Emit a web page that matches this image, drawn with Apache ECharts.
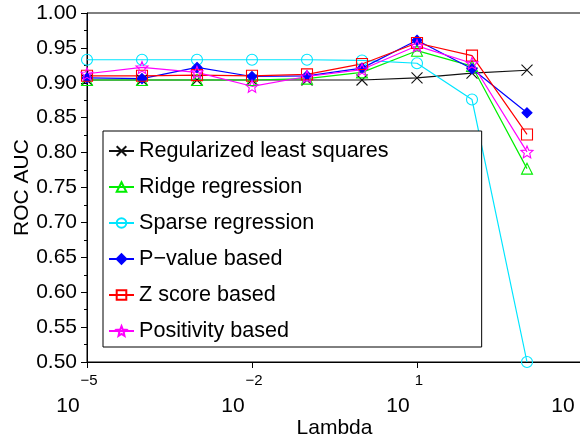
<!DOCTYPE html>
<html>
<head>
<meta charset="utf-8">
<script src="https://cdn.jsdelivr.net/npm/echarts@6/dist/echarts.min.js"></script>
<style>
html, body { margin: 0; padding: 0; background: #fff; }
#container { width: 580px; height: 440px; }
</style>
</head>
<body>
<div id="container"></div>
<script>
// lambda values (log x axis) and ROC AUC per method
var lambdas = [1e-5, 1e-4, 1e-3, 1e-2, 1e-1, 1, 10, 100, 1000];
var rls = [0.904, 0.904, 0.904, 0.904, 0.904, 0.904, 0.907, 0.914, 0.918];
var ridge = [0.904, 0.904, 0.904, 0.904, 0.906, 0.915, 0.946, 0.924, 0.777];
var sparse = [0.933, 0.933, 0.933, 0.933, 0.933, 0.932, 0.928, 0.876, 0.500];
var pvalue = [0.907, 0.906, 0.922, 0.909, 0.910, 0.921, 0.961, 0.920, 0.857];
var zscore = [0.910, 0.910, 0.911, 0.910, 0.912, 0.927, 0.957, 0.939, 0.826];
var positivity = [0.913, 0.922, 0.915, 0.895, 0.909, 0.919, 0.953, 0.928, 0.801];
var xTicks = [1e-5, 1e-2, 1e1, 1e4];

var FONT = 'Liberation Sans';
var crossPath = 'path://M0,0L10,10M0,10L10,0';
var starPath = 'path://M10,0L12.6,6.4L19.5,6.9L14.3,11.4L15.9,18.1L10,14.5L4.1,18.1L5.7,11.4L0.5,6.9L7.4,6.4Z';

function pairs(ys) {
    var out = [];
    for (var i = 0; i < lambdas.length; i++) {
        out.push([lambdas[i], ys[i]]);
    }
    return out;
}

function makeSeries(name, ys, color, symbol, size, filled) {
    return {
        name: name,
        type: 'line',
        data: pairs(ys),
        symbol: symbol,
        symbolSize: size,
        lineStyle: { color: color, width: 1.2 },
        itemStyle: {
            color: filled ? color : 'transparent',
            borderColor: color,
            borderWidth: 1.1
        }
    };
}

var dom = document.getElementById("container");
var myChart = echarts.init(dom, null, { renderer: 'canvas' });

option = {
    animation: false,
    textStyle: { fontFamily: FONT },
    grid: {
        left: 87,
        top: 13,
        width: 495,
        height: 349,
        containLabel: false,
        outerBoundsMode: 'none',
        show: true,
        borderColor: '#000',
        borderWidth: 1
    },
    legend: {
        orient: 'vertical',
        left: 103,
        top: 131,
        backgroundColor: '#fff',
        borderColor: '#000',
        borderWidth: 1,
        padding: [8, 93, 4, 5],
        itemWidth: 25,
        itemHeight: 12,
        itemGap: 12,
        textStyle: { fontFamily: FONT, fontSize: 21.6, color: '#000', lineHeight: 24 }
    },
    xAxis: {
        type: 'log',
        logBase: 10,
        min: 1e-5,
        max: 1e4,
        name: 'Lambda',
        nameLocation: 'middle',
        nameGap: 56,
        nameMoveOverlap: false,
        nameTextStyle: { fontFamily: FONT, fontSize: 21, color: '#000' },
        axisLine: { lineStyle: { color: '#000', width: 1 } },
        axisTick: { show: true, length: 6, customValues: xTicks, lineStyle: { color: '#000' } },
        splitLine: { show: false },
        axisLabel: {
            customValues: xTicks,
            margin: 10,
            color: '#000',
            formatter: function (v) {
                var e = Math.round(Math.log10(v));
                var s = e < 0 ? '\u2212' + (-e) : String(e);
                return '{sup|' + s + '}\n{base|10}';
            },
            rich: {
                sup: { fontFamily: FONT, fontSize: 15, lineHeight: 18, color: '#000', padding: [0, 0, 0, 4] },
                base: { fontFamily: FONT, fontSize: 21, lineHeight: 32, color: '#000', padding: [0, 38, 0, 0] }
            }
        }
    },
    yAxis: {
        type: 'value',
        min: 0.5,
        max: 1.0,
        interval: 0.05,
        name: 'ROC AUC',
        nameLocation: 'middle',
        nameGap: 54,
        nameMoveOverlap: false,
        nameTextStyle: { fontFamily: FONT, fontSize: 21, color: '#000' },
        axisLine: { show: true, lineStyle: { color: '#000', width: 1 } },
        axisTick: { show: true, length: 6, lineStyle: { color: '#000' } },
        minorTick: { show: true, splitNumber: 2, length: 3, lineStyle: { color: '#000' } },
        splitLine: { show: false },
        axisLabel: {
            margin: 10,
            fontFamily: FONT,
            fontSize: 21,
            color: '#000',
            formatter: function (v) { return v.toFixed(2); }
        }
    },
    series: [
        makeSeries('Regularized least squares', rls, '#111', crossPath, 11, false),
        makeSeries('Ridge regression', ridge, '#00ee00', 'triangle', 11, false),
        makeSeries('Sparse regression', sparse, '#00e5ff', 'circle', 11, false),
        makeSeries('P\u2212value based', pvalue, '#0000ff', 'diamond', 10, true),
        makeSeries('Z score based', zscore, '#ff0000', 'rect', 11, false),
        makeSeries('Positivity based', positivity, '#ff00ff', starPath, 12, false)
    ]
};
if (option && typeof option === "object") {
    myChart.setOption(option, true);
}
</script>
</body>
</html>
